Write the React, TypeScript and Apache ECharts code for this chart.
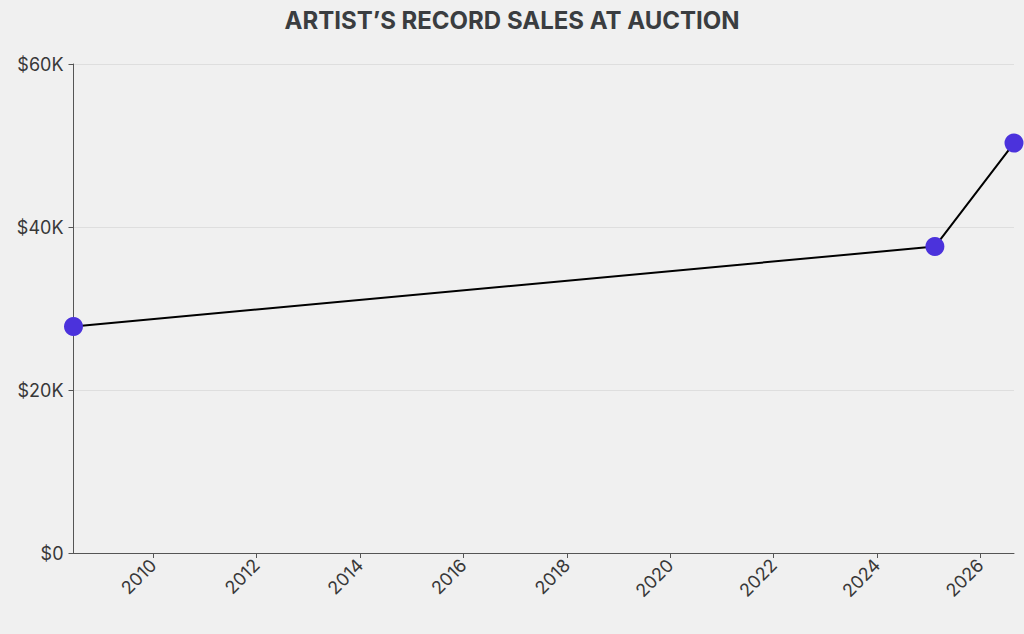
import React, { useEffect, useRef } from "react";
import * as echarts from "echarts";

// sale date as decimal year
const saleYears = [2008.46, 2025.12, 2026.65];
const saleValues = [27800, 37600, 50300];
const yearTicks = [2010, 2012, 2014, 2016, 2018, 2020, 2022, 2024, 2026];
const titleText = "ARTIST\u2019S RECORD SALES AT AUCTION";

export default function App() {
  const ref = useRef<HTMLDivElement>(null);
  useEffect(() => {
    document.body.style.margin = "0";
    const chart = echarts.init(ref.current!, null, { renderer: "svg" });
    chart.setOption({
      animation: false,
      backgroundColor: "#f0f0f0",
      textStyle: { fontFamily: "Inter" },
      title: {
        text: titleText,
        left: "center",
        top: 3,
        textStyle: { fontFamily: "Inter", fontSize: 24, fontWeight: "bold", color: "#3a3d40" },
      },
      grid: { left: 73.5, right: 10, top: 64, bottom: 81, containLabel: false },
      xAxis: {
        type: "value",
        min: saleYears[0],
        max: saleYears[saleYears.length - 1],
        axisLine: { lineStyle: { color: "#555", width: 1 } },
        axisTick: { show: true, length: 5, lineStyle: { color: "#555" }, customValues: yearTicks },
        axisLabel: {
          customValues: yearTicks,
          rotate: 45,
          fontSize: 18,
          color: "#383838",
          margin: 9,
          formatter: (v: number) => String(Math.round(v)),
        },
        splitLine: { show: false },
      },
      yAxis: {
        type: "value",
        min: 0,
        max: 60000,
        interval: 20000,
        axisLine: { show: true, lineStyle: { color: "#555", width: 1 } },
        axisTick: { show: true, length: 5, lineStyle: { color: "#555" } },
        axisLabel: {
          fontSize: 18,
          color: "#383838",
          margin: 10,
          formatter: (v: number) => (v === 0 ? "$0" : "$" + v / 1000 + "K"),
        },
        splitLine: { show: true, lineStyle: { color: "#dedede", width: 1 } },
      },
      series: [
        {
          type: "line",
          data: saleYears.map((t, i) => [t, saleValues[i]]),
          symbol: "circle",
          symbolSize: 19,
          lineStyle: { color: "#000", width: 2 },
          itemStyle: { color: "#4b32dc" },
          z: 3,
        },
      ],
    });
    return () => chart.dispose();
  }, []);
  return <div ref={ref} style={{ width: 1024, height: 634 }} />;
}
